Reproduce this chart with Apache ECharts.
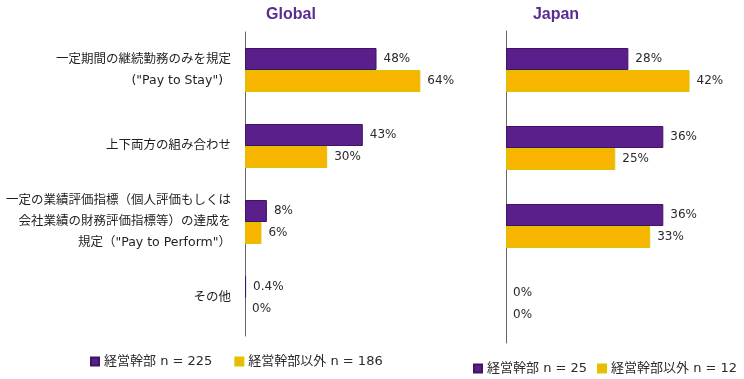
<!DOCTYPE html>
<html>
<head>
<meta charset="utf-8">
<script src="https://cdn.jsdelivr.net/npm/echarts@6/dist/echarts.min.js"></script>
<style>
html,body{margin:0;padding:0;background:#fff;}
#main{width:744px;height:379px;}
</style>
</head>
<body>
<div id="main"></div>
<script>
const categories = [
  '一定期間の継続勤務のみを規定\n("Pay to Stay")  ',
  '上下両方の組み合わせ',
  '一定の業績評価指標（個人評価もしくは\n会社業績の財務評価指標等）の達成を\n規定（"Pay to Perform"）',
  'その他'
];
const globalExec = [48, 43, 8, 0.4];
const globalNonExec = [64, 30, 6, 0];
const japanExec = [28, 36, 36, 0];
const japanNonExec = [42, 25, 33, 0];
const globalNames = ['経営幹部 n = 225', '経営幹部以外 n = 186'];
const japanNames = ['経営幹部 n = 25', '経営幹部以外 n = 12'];

const PURPLE = '#5b1f8b';
const YELLOW = '#f8b500';
const FONT = '"DejaVu Sans", "Noto Sans CJK JP", sans-serif';
const labelStyle = {
  show: true, position: 'right', distance: 7,
  formatter: p => p.value + '%',
  fontFamily: 'DejaVu Sans', fontSize: 12, color: '#2a2a2a'
};
function barSeries(name, data, color, axisIdx, border) {
  return {
    name, type: 'bar',
    data: data.map(v => v === 0 ? { value: v, itemStyle: { borderWidth: 0 } } : v),
    xAxisIndex: axisIdx, yAxisIndex: axisIdx,
    barWidth: 22, barGap: '0%',
    itemStyle: { color, borderColor: border, borderWidth: 1 },
    label: labelStyle
  };
}
const chart = echarts.init(document.getElementById('main'));
chart.setOption({
  backgroundColor: '#fff',
  animation: false,
  title: [
    { text: 'Global', left: 286, top: 2, textAlign: 'center',
      textStyle: { fontFamily: 'Liberation Sans', fontSize: 16, fontWeight: 'bold', color: '#5a2d91' } },
    { text: 'Japan', left: 551, top: 2, textAlign: 'center',
      textStyle: { fontFamily: 'Liberation Sans', fontSize: 16, fontWeight: 'bold', color: '#5a2d91' } }
  ],
  legend: [
    { data: globalNames, left: 90, top: 355, padding: 0, width: 400, icon: 'rect', itemWidth: 8, itemHeight: 8, itemGap: 22,
      textStyle: { fontFamily: FONT, fontSize: 13, color: '#2a2a2a' } },
    { data: japanNames, left: 473, top: 362, padding: 0, width: 300, icon: 'rect', itemWidth: 8, itemHeight: 8, itemGap: 10,
      textStyle: { fontFamily: FONT, fontSize: 13, color: '#2a2a2a' } }
  ],
  grid: [
    { left: 245, top: 32, width: 191.8, height: 304, outerBoundsMode: 'none', containLabel: false },
    { left: 506, top: 31, width: 218.5, height: 312, outerBoundsMode: 'none', containLabel: false }
  ],
  xAxis: [
    { gridIndex: 0, type: 'value', min: 0, max: 70, show: false },
    { gridIndex: 1, type: 'value', min: 0, max: 50, show: false }
  ],
  yAxis: [
    { gridIndex: 0, type: 'category', data: categories, inverse: true,
      axisLine: { show: true, lineStyle: { color: '#666', width: 1 } },
      axisTick: { show: false },
      axisLabel: { margin: 14, fontFamily: FONT, fontSize: 12.5, lineHeight: 21, color: '#1f1f1f', align: 'right' } },
    { gridIndex: 1, type: 'category', data: categories, inverse: true,
      axisLine: { show: true, lineStyle: { color: '#666', width: 1 } },
      axisTick: { show: false }, axisLabel: { show: false } }
  ],
  series: [
    barSeries(globalNames[0], globalExec, PURPLE, 0, '#3f1466'),
    barSeries(globalNames[1], globalNonExec, YELLOW, 0, '#d6c800'),
    barSeries(japanNames[0], japanExec, PURPLE, 1, '#3f1466'),
    barSeries(japanNames[1], japanNonExec, YELLOW, 1, '#d6c800')
  ]
});
</script>
</body>
</html>
